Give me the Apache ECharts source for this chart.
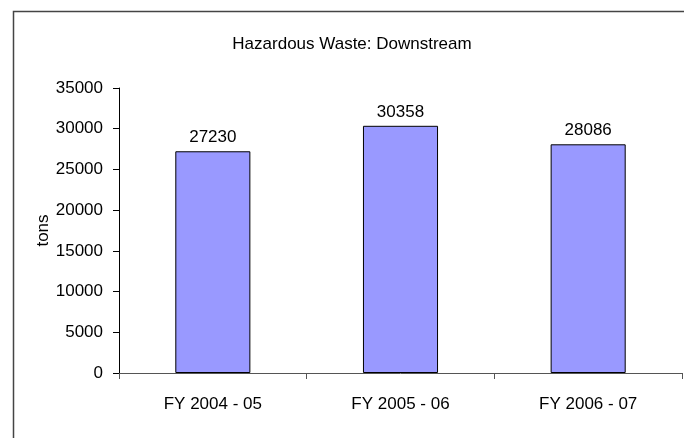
<!DOCTYPE html>
<html>
<head>
<meta charset="utf-8">
<style>
  html, body { margin: 0; padding: 0; background: #fff; }
  #chart { width: 684px; height: 438px; }
</style>
<script src="https://cdn.jsdelivr.net/npm/echarts@6/dist/echarts.min.js"></script>
</head>
<body>
<div id="chart"></div>
<script>
var categories = ['FY 2004 - 05', 'FY 2005 - 06', 'FY 2006 - 07'];
var tons = [27230, 30358, 28086];

var font = 'Arial, "Liberation Sans", sans-serif';

var chart = echarts.init(document.getElementById('chart'));
chart.setOption({
    animation: false,
    backgroundColor: '#fff',
    graphic: [{
        type: 'rect',
        left: 11,
        top: 9,
        shape: { width: 720, height: 480 },
        style: { fill: 'none', stroke: '#444', lineWidth: 1.5 },
        silent: true
    }],
    title: {
        text: 'Hazardous Waste: Downstream',
        left: 347,
        textAlign: 'center',
        top: 31,
        textStyle: { fontFamily: font, fontSize: 17, fontWeight: 'normal', color: '#000' }
    },
    grid: { left: 119, right: 2, top: 88, bottom: 65 },
    xAxis: {
        type: 'category',
        data: categories,
        axisLine: { lineStyle: { color: '#555', width: 1 } },
        axisTick: { show: true, length: 6, alignWithLabel: false, lineStyle: { color: '#555' } },
        axisLabel: { fontFamily: font, fontSize: 17, color: '#000', margin: 23 },
        splitLine: { show: false }
    },
    yAxis: {
        type: 'value',
        min: 0,
        max: 35000,
        interval: 5000,
        name: 'tons',
        nameLocation: 'middle',
        nameGap: 67,
        nameMoveOverlap: false,
        nameTextStyle: { fontFamily: font, fontSize: 17, color: '#000' },
        axisLine: { show: true, lineStyle: { color: '#000', width: 1 } },
        axisTick: { show: true, length: 6, lineStyle: { color: '#000' } },
        axisLabel: {
            fontFamily: font, fontSize: 17, color: '#000', margin: 16,
            formatter: function (v) { return String(v); }
        },
        splitLine: { show: false }
    },
    series: [{
        type: 'bar',
        data: tons,
        barWidth: '40%',
        itemStyle: { color: '#9999ff', borderColor: '#000', borderWidth: 1 },
        label: {
            show: true,
            position: 'top',
            distance: 5,
            fontFamily: font,
            fontSize: 17,
            color: '#000'
        }
    }]
});
</script>
</body>
</html>
